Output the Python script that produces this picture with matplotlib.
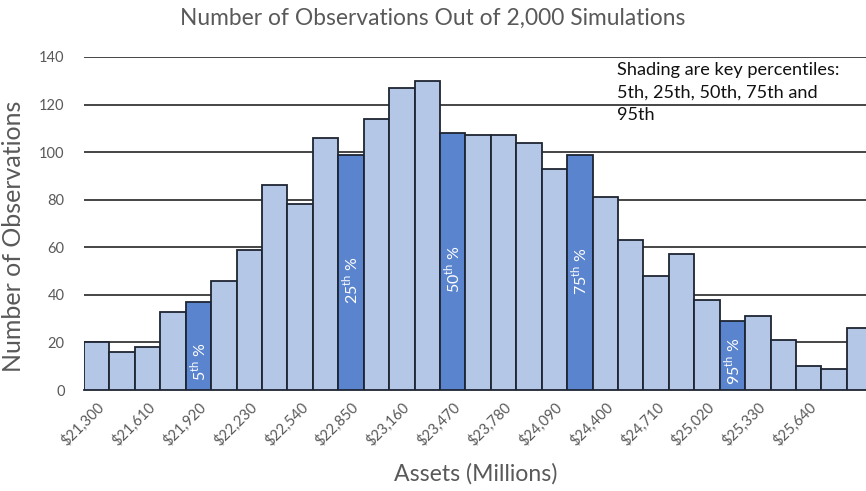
import numpy as np
import matplotlib.pyplot as plt

plt.rcParams['font.family'] = ['Lato', 'DejaVu Sans']
plt.rcParams['mathtext.fontset'] = 'custom'
plt.rcParams['mathtext.rm'] = 'Lato'

# simulated asset histogram, one bin every $155M starting at $21,300
counts = [20, 16, 18, 33, 37, 46, 59, 86, 78, 106, 99, 114, 127, 130, 108,
          107, 107, 104, 93, 99, 81, 63, 48, 57, 38, 29, 31, 21, 10, 9, 26]
tick_labels = ['$21,300', '$21,610', '$21,920', '$22,230', '$22,540', '$22,850',
               '$23,160', '$23,470', '$23,780', '$24,090', '$24,400', '$24,710',
               '$25,020', '$25,330', '$25,640']
# bins holding the key percentiles
pct_bins = [4, 10, 14, 19, 25]
pct_names = ['5', '25', '50', '75', '95']
pct_text_y = [12, 46, 51, 50, 12]

light = '#B4C7E7'
dark = '#5B84CE'
edge = '#1E2533'
grey = '#595959'

x = np.arange(len(counts))
colors = [dark if i in pct_bins else light for i in x]

fig = plt.figure(figsize=(8.66, 4.91), dpi=100)
ax = fig.add_axes([84 / 866, 101 / 491, 1 - 84 / 866, 333 / 491])

ax.bar(x, counts, width=1.0, color=colors, edgecolor=edge, linewidth=1.3, zorder=3)

ax.set_ylim(0, 140)
ax.set_xlim(-0.5, 30.25)
ax.set_yticks(range(0, 141, 20))
ax.yaxis.grid(True, color='#262626', linewidth=1.2, zorder=0)
ax.set_axisbelow(True)
for s in ['top', 'right', 'left']:
    ax.spines[s].set_visible(False)
ax.spines['bottom'].set_color(edge)
ax.spines['bottom'].set_linewidth(1.3)
ax.tick_params(length=0, colors=grey, labelsize=10.5)
ax.tick_params(axis='y', pad=14)

# one label every second bin
ax.set_xticks(x[0:2 * len(tick_labels):2])
ax.set_xticklabels(tick_labels, rotation=45, ha='right', rotation_mode='anchor')
ax.tick_params(axis='x', pad=7)

for b, name, ty in zip(pct_bins, pct_names, pct_text_y):
    ax.text(b, ty, name + r'$^{\mathrm{th}}$ %', rotation=90, color='white',
            ha='center', va='center', fontsize=11.5, zorder=4)

ax.text(0.682, 0.985, 'Shading are key percentiles:\n5th, 25th, 50th, 75th and\n95th',
        transform=ax.transAxes, ha='left', va='top', fontsize=13.1,
        color='#111111', linespacing=1.5, zorder=5)

ax.set_ylabel('Number of Observations', fontsize=18, color=grey)
ax.yaxis.set_label_coords(-84 / 782 + 25 / 782, 0.462)
fig.text(476 / 866, 1 - 474 / 491, 'Assets (Millions)', ha='center', va='center',
         fontsize=16.6, color=grey)
fig.text(0.5, 1 - 18 / 491, 'Number of Observations Out of 2,000 Simulations',
         ha='center', va='center', fontsize=16.4, color=grey)

fig.savefig('out.png', dpi=100)
